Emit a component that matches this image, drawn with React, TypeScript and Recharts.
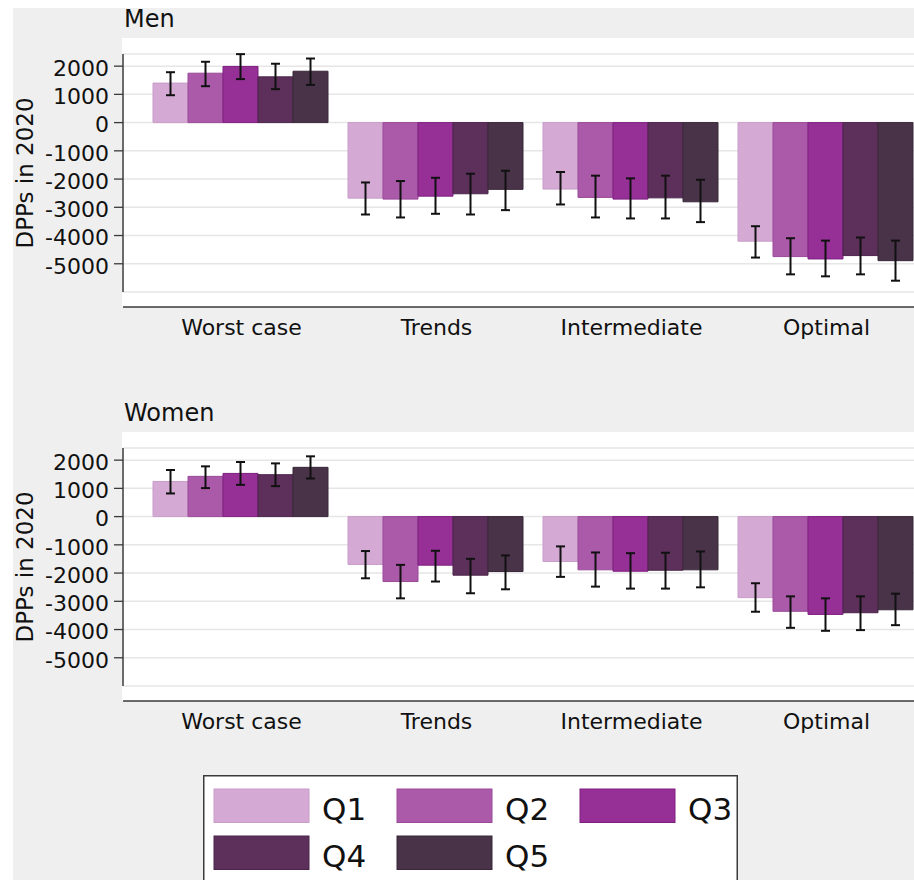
import React from 'react';
import { BarChart, Bar, XAxis, YAxis, CartesianGrid, ErrorBar, ReferenceLine, Legend } from 'recharts';

const scenarios = ['Worst case', 'Trends', 'Intermediate', 'Optimal'];
const quintiles = ['Q1', 'Q2', 'Q3', 'Q4', 'Q5'];
const yTicks = [2000, 1000, 0, -1000, -2000, -3000, -4000, -5000];

// rows = quintile (Q1..Q5), columns = scenario
const menMean = [
  [1400, -2675, -2355, -4200],
  [1750, -2710, -2650, -4745],
  [1990, -2605, -2710, -4830],
  [1620, -2520, -2665, -4710],
  [1820, -2365, -2805, -4890],
];
const menLow = [
  [970, -3255, -2900, -4780],
  [1290, -3360, -3360, -5375],
  [1540, -3230, -3395, -5445],
  [1185, -3255, -3395, -5375],
  [1335, -3100, -3525, -5600],
];
const menHigh = [
  [1785, -2120, -1750, -3670],
  [2155, -2070, -1880, -4095],
  [2425, -1955, -1975, -4180],
  [2085, -1810, -1880, -4070],
  [2270, -1705, -2025, -4180],
];
const womenMean = [
  [1245, -1695, -1590, -2870],
  [1425, -2300, -1885, -3355],
  [1530, -1720, -1935, -3465],
  [1485, -2075, -1900, -3405],
  [1745, -1945, -1885, -3300],
];
const womenLow = [
  [820, -2185, -2135, -3370],
  [1010, -2895, -2480, -3940],
  [1125, -2300, -2550, -4045],
  [1080, -2715, -2550, -4020],
  [1350, -2575, -2505, -3845],
];
const womenHigh = [
  [1650, -1220, -1055, -2360],
  [1780, -1710, -1270, -2825],
  [1935, -1210, -1295, -2895],
  [1885, -1495, -1280, -2825],
  [2135, -1375, -1235, -2730],
];

const fills = ['#d4aad4', '#aa5aa8', '#963096', '#5d305c', '#483348'];
const strokes = ['#c99cc9', '#9a4a98', '#7e1f80', '#4a2449', '#392839'];

const FONT = '"DejaVu Sans", sans-serif';
const TEXT = '#111';

function buildRows(mean: number[][], low: number[][], high: number[][]) {
  return scenarios.map((name, s) => {
    const row: any = { name };
    quintiles.forEach((q, i) => {
      row[q] = mean[i][s];
      row[q + '_err'] = [mean[i][s] - low[i][s], high[i][s] - mean[i][s]];
    });
    return row;
  });
}

const menRows = buildRows(menMean, menLow, menHigh);
const womenRows = buildRows(womenMean, womenLow, womenHigh);

const renderYLabel = (props: any) => {
  const vb = props.viewBox || { x: 0, y: 54, width: 123, height: 238 };
  const cx = vb.x + 33;
  const cy = vb.y + vb.height / 2;
  return (
    <text
      x={cx}
      y={cy}
      transform={`rotate(-90, ${cx}, ${cy})`}
      textAnchor="middle"
      fontFamily={FONT}
      fontSize={23}
      fill={TEXT}
    >
      DPPs in 2020
    </text>
  );
};

const renderLegend = (props: any) => {
  const payload = props.payload || [];
  return (
    <svg width={535} height={110} style={{ display: 'block' }}>
      <rect x={0.75} y={0.75} width={533.5} height={130} fill="#ffffff" stroke="#3a3a3a" strokeWidth={1.5} />
      {payload.map((entry: any, i: number) => {
        const col = i % 3;
        const row = Math.floor(i / 3);
        const sx = 11 + col * 183;
        const sy = 14 + row * 47;
        return (
          <g key={entry.value}>
            <rect x={sx} y={sy} width={95} height={33.5} fill={entry.color} stroke={strokes[i]} strokeWidth={1} />
            <text x={sx + 108} y={sy + 31} fontFamily={FONT} fontSize={31} fill={TEXT}>
              {entry.value}
            </text>
          </g>
        );
      })}
    </svg>
  );
};

function Panel({ rows, top, showLegend }: { rows: any[]; top: number; showLegend?: boolean }) {
  return (
    <div style={{ position: 'absolute', left: 0, top }}>
      <BarChart
        width={924}
        height={352}
        data={rows}
        margin={{ top: 54, right: 0, bottom: 0, left: 0 }}
        barCategoryGap={9}
        barGap={0}
      >
        <CartesianGrid horizontal vertical={false} stroke="#e6e6e6" strokeWidth={1.5} />
        <XAxis
          dataKey="name"
          type="category"
          padding={{ left: 21, right: 0 }}
          axisLine={false}
          tickLine={false}
          tickSize={0}
          tickMargin={27}
          interval={0}
          height={60}
          tick={{ fontFamily: FONT, fontSize: 22, fill: TEXT }}
        />
        <YAxis
          type="number"
          domain={[-6000, 2430]}
          ticks={yTicks}
          interval={0}
          width={123}
          axisLine={{ stroke: '#3a3a3a', strokeWidth: 1.5 }}
          tickLine={{ stroke: '#3a3a3a', strokeWidth: 1.3 }}
          tickSize={9}
          tickMargin={5}
          tick={{ fontFamily: FONT, fontSize: 22, fill: TEXT, dy: 2 }}
          label={{ value: 'DPPs in 2020', content: renderYLabel }}
        />
        <ReferenceLine y={-6532} stroke="#3a3a3a" strokeWidth={1.5} ifOverflow="visible" />
        {quintiles.map((q, i) => (
          <Bar
            key={q}
            dataKey={q}
            name={q}
            fill={fills[i]}
            stroke={strokes[i]}
            strokeWidth={1}
            isAnimationActive={false}
          >
            <ErrorBar dataKey={q + '_err'} width={4.5} stroke="#111" strokeWidth={2} direction="y" />
          </Bar>
        ))}
        {showLegend ? (
          <Legend
            layout="horizontal"
            verticalAlign="middle"
            align="center"
            content={renderLegend}
            wrapperStyle={{ left: 203, top: 381, width: 535, height: 110 }}
          />
        ) : null}
      </BarChart>
    </div>
  );
}

const titleStyle: React.CSSProperties = {
  position: 'absolute',
  left: 124,
  fontFamily: FONT,
  fontSize: 24,
  lineHeight: '24px',
  color: TEXT,
  whiteSpace: 'nowrap',
};

export default function App() {
  return (
    <div
      style={{
        position: 'fixed',
        left: 0,
        top: 0,
        width: 914,
        height: 880,
        overflow: 'hidden',
        background: '#ffffff',
      }}
    >
      <div style={{ position: 'absolute', left: 13, top: 8, width: 920, height: 900, background: '#efefef' }} />
      <div style={{ position: 'absolute', left: 122, top: 38, width: 820, height: 269, background: '#ffffff' }} />
      <div style={{ position: 'absolute', left: 122, top: 432, width: 820, height: 269, background: '#ffffff' }} />
      <div style={{ ...titleStyle, top: 7.4 }}>Men</div>
      <div style={{ ...titleStyle, top: 401.4 }}>Women</div>
      <Panel rows={menRows} top={0} />
      <Panel rows={womenRows} top={394} showLegend />
    </div>
  );
}
